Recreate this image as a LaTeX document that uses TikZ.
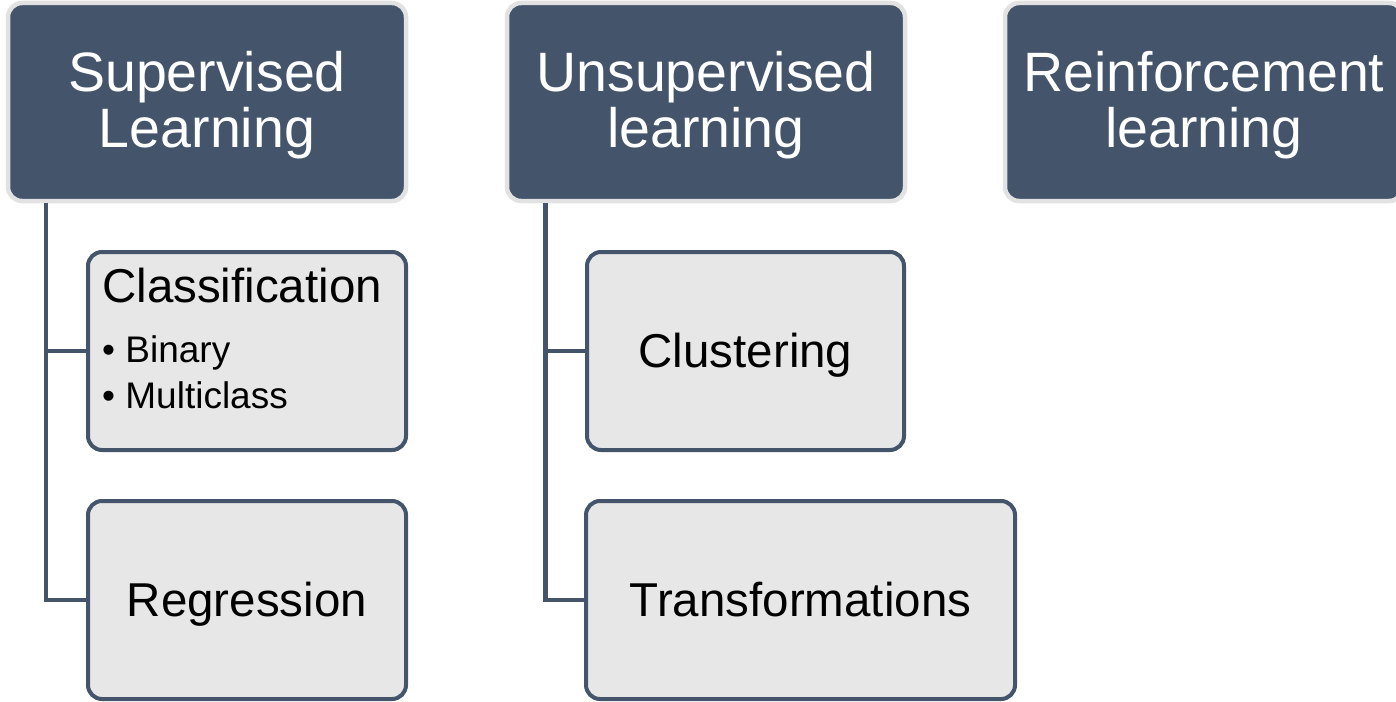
\documentclass[tikz,border=0pt]{standalone}
\usepackage{fontspec}
\setmainfont{Liberation Sans}
\definecolor{slate}{HTML}{44546A}
\definecolor{lightfill}{HTML}{E7E7E7}
\definecolor{rim}{HTML}{E2E2E2}
\begin{document}
\begin{tikzpicture}[x=1pt,y=-1pt,
 head/.style={draw=rim, line width=4.5pt, fill=slate, rounded corners=14pt, text=white,
   minimum width=398pt, minimum height=198pt, align=center, inner sep=0pt,
   font=\fontsize{55.5}{56}\selectfont, text height=102pt, text depth=12pt},
 sub/.style={draw=slate, line width=4pt, fill=lightfill, rounded corners=14pt, text=black,
   minimum height=198pt, inner sep=0pt, font=\fontsize{47.5}{50}\selectfont,
   text height=32pt, text depth=0pt},
 conn/.style={draw=slate, line width=4.5pt},
 title/.style={anchor=base west, inner sep=0pt, font=\fontsize{47.5}{50}\selectfont},
 item/.style={anchor=base west, inner sep=0pt, font=\fontsize{37}{46}\selectfont}]
\useasboundingbox (0,0) rectangle (1396,701);
% headers
\node[head] (sup) at (207,102) {Supervised\\Learning};
\node[head] (uns) at (706,102) {Unsupervised\\learning};
\node[head] (rei) at (1204,102) {Reinforcement\\learning};
% children
\node[sub, minimum width=318pt] (cls) at (247,351) {};
\node[title] (clst) at (102,302) {Classification};
\node[item] (bin) at (102,362) {• Binary};
\node[item] (mul) at (102,408) {• Multiclass};
\node[sub, minimum width=318pt] (reg) at (247,600) {Regression};
\node[sub, minimum width=317pt] (clu) at (745.5,351) {Clustering};
\node[sub, minimum width=429pt] (tra) at (800.5,600) {Transformations};
% connectors
\draw[conn] ([xshift=40pt]sup.south west) |- (cls.west);
\draw[conn] ([xshift=40pt]sup.south west) |- (reg.west);
\draw[conn] ([xshift=40.5pt]uns.south west) |- (clu.west);
\draw[conn] ([xshift=40.5pt]uns.south west) |- (tra.west);
\end{tikzpicture}
\end{document}
